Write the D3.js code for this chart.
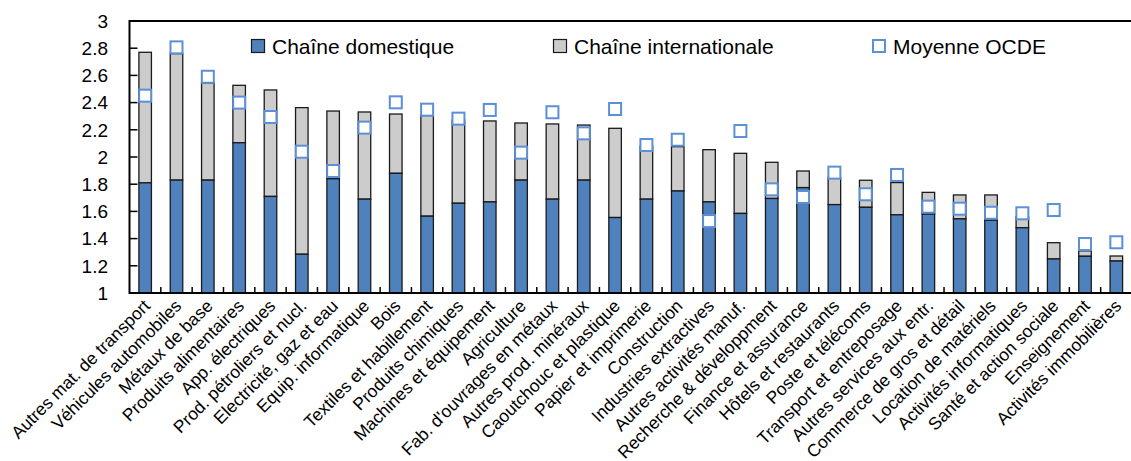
<!DOCTYPE html>
<html>
<head>
<meta charset="utf-8">
<script src="https://cdn.jsdelivr.net/npm/d3@7"></script>
<style>
  html, body { margin: 0; padding: 0; background: #fff; }
  svg { display: block; font-family: "Liberation Sans", Arial, sans-serif; }
</style>
</head>
<body>
<svg id="chart" width="1131" height="461"></svg>
<script>
// Sectors, ordered by total value chain length
const categories = [
  "Autres mat. de transport", "Véhicules automobiles", "Métaux de base",
  "Produits alimentaires", "App. électriques", "Prod. pétroliers et nucl.",
  "Electricité, gaz et eau", "Equip. informatique", "Bois",
  "Textiles et habillement", "Produits chimiques", "Machines et équipement",
  "Agriculture", "Fab. d'ouvrages en métaux", "Autres prod. minéraux",
  "Caoutchouc et plastique", "Papier et imprimerie", "Construction",
  "Industries extractives", "Autres activités manuf.", "Recherche & développment",
  "Finance et assurance", "Hôtels et restaurants", "Poste et télécoms",
  "Transport et entreposage", "Autres services aux entr.", "Commerce de gros et détail",
  "Location de matériels", "Activités informatiques", "Santé et action sociale",
  "Enseignement", "Activités immobilières"
];

// Domestic part of the chain (bar base is 1)
const domestique = [
  1.81, 1.83, 1.83, 2.105, 1.71, 1.285, 1.84, 1.69, 1.88,
  1.565, 1.66, 1.67, 1.83, 1.69, 1.83, 1.555, 1.69, 1.75,
  1.67, 1.585, 1.695, 1.775, 1.65, 1.63, 1.575, 1.58, 1.545,
  1.535, 1.48, 1.25, 1.27, 1.235
];

// Total chain length (domestic + international)
const total = [
  2.77, 2.76, 2.545, 2.527, 2.493, 2.363, 2.338, 2.331, 2.316,
  2.305, 2.27, 2.265, 2.25, 2.243, 2.235, 2.211, 2.08, 2.076,
  2.054, 2.027, 1.961, 1.897, 1.85, 1.829, 1.812, 1.74, 1.721,
  1.721, 1.56, 1.37, 1.31, 1.272
];

// OECD average
const moyenneOCDE = [
  2.451, 2.806, 2.59, 2.40, 2.294, 2.039, 1.897, 2.216, 2.402,
  2.348, 2.282, 2.346, 2.032, 2.329, 2.174, 2.353, 2.088, 2.127,
  1.529, 2.191, 1.762, 1.706, 1.885, 1.726, 1.868, 1.635, 1.62,
  1.59, 1.586, 1.61, 1.36, 1.373
];

const yTicks = [1, 1.2, 1.4, 1.6, 1.8, 2, 2.2, 2.4, 2.6, 2.8, 3];

const legendItems = [
  { label: "Chaîne domestique", type: "dom" },
  { label: "Chaîne internationale", type: "int" },
  { label: "Moyenne OCDE", type: "avg" }
];

const COL_DOM = "#4f81bd";
const COL_INT = "#cccccc";
const COL_AVG = "#5b8fd6";

const svg = d3.select("#chart");
const plotLeft = 129.5, plotRight = 1132, plotTop = 21, plotBottom = 293;

const x = d3.scaleBand().domain(categories).range([plotLeft, plotRight]).paddingInner(0.6).paddingOuter(0.3);
const y = d3.scaleLinear().domain([1, 3]).range([plotBottom, plotTop]);

// Y axis: labels on the left, short ticks pointing into the plot
const yAxis = svg.append("g");
yAxis.selectAll("line").data(yTicks).join("line")
  .attr("x1", plotLeft).attr("x2", plotLeft + 8)
  .attr("y1", d => y(d)).attr("y2", d => y(d))
  .attr("stroke", "#000").attr("stroke-width", 1.5);
yAxis.selectAll("text").data(yTicks).join("text")
  .attr("x", 108).attr("y", d => y(d))
  .attr("dy", "0.36em")
  .attr("text-anchor", "end")
  .attr("font-size", 19)
  .attr("fill", "#000")
  .text(d => d3.format("")(d));

// X tick marks at band boundaries, pointing up
const step = x.step();
const boundaries = categories.slice(1).map(c => x(c) - x.paddingInner() * step / 2);
svg.append("g").selectAll("line").data(boundaries).join("line")
  .attr("x1", d => d).attr("x2", d => d)
  .attr("y1", plotBottom).attr("y2", plotBottom - 6)
  .attr("stroke", "#000").attr("stroke-width", 1.5);

// Stacked bars
const bars = svg.append("g");
bars.selectAll("rect.int").data(categories).join("rect")
  .attr("class", "int")
  .attr("x", d => x(d)).attr("width", x.bandwidth())
  .attr("y", (d, i) => y(total[i]))
  .attr("height", (d, i) => y(domestique[i]) - y(total[i]))
  .attr("fill", COL_INT).attr("stroke", "#1a1a1a").attr("stroke-width", 1.3);
bars.selectAll("rect.dom").data(categories).join("rect")
  .attr("class", "dom")
  .attr("x", d => x(d)).attr("width", x.bandwidth())
  .attr("y", (d, i) => y(domestique[i]))
  .attr("height", (d, i) => y(1) - y(domestique[i]))
  .attr("fill", COL_DOM).attr("stroke", "#1a1a1a").attr("stroke-width", 1.3);

// OECD average markers
const ms = 12;
svg.append("g").selectAll("rect").data(categories).join("rect")
  .attr("x", d => x(d) + x.bandwidth() / 2 - ms / 2)
  .attr("y", (d, i) => y(moyenneOCDE[i]) - ms / 2)
  .attr("width", ms).attr("height", ms)
  .attr("fill", "#fff").attr("stroke", COL_AVG).attr("stroke-width", 2);

// Frame: left, top and bottom lines
svg.append("path")
  .attr("d", `M${plotRight},${plotTop}H${plotLeft}V${plotBottom}H${plotRight}`)
  .attr("fill", "none").attr("stroke", "#000").attr("stroke-width", 2);

// Category labels, rotated
svg.append("g").selectAll("text").data(categories).join("text")
  .attr("transform", d => `translate(${x(d) + x.bandwidth() / 2 + 6},${plotBottom + 14}) rotate(-45)`)
  .attr("text-anchor", "end")
  .attr("font-size", 17.5)
  .attr("fill", "#000")
  .text(d => d);

// Legend
const legendX = [251, 553, 872];
const lg = svg.append("g").selectAll("g").data(legendItems).join("g")
  .attr("transform", (d, i) => `translate(${legendX[i]},39)`);
lg.append("rect")
  .attr("x", d => d.type === "avg" ? 1 : 0.5)
  .attr("y", d => d.type === "avg" ? 1 : 0.5)
  .attr("width", d => d.type === "avg" ? 12 : 13)
  .attr("height", d => d.type === "avg" ? 12 : 13)
  .attr("fill", d => d.type === "dom" ? COL_DOM : d.type === "int" ? COL_INT : "#fff")
  .attr("stroke", d => d.type === "avg" ? COL_AVG : "#1a1a1a")
  .attr("stroke-width", d => d.type === "avg" ? 2 : 1.2);
lg.append("text")
  .attr("x", 21).attr("y", 15)
  .attr("font-size", 21)
  .attr("fill", "#000")
  .text(d => d.label);
</script>
</body>
</html>
